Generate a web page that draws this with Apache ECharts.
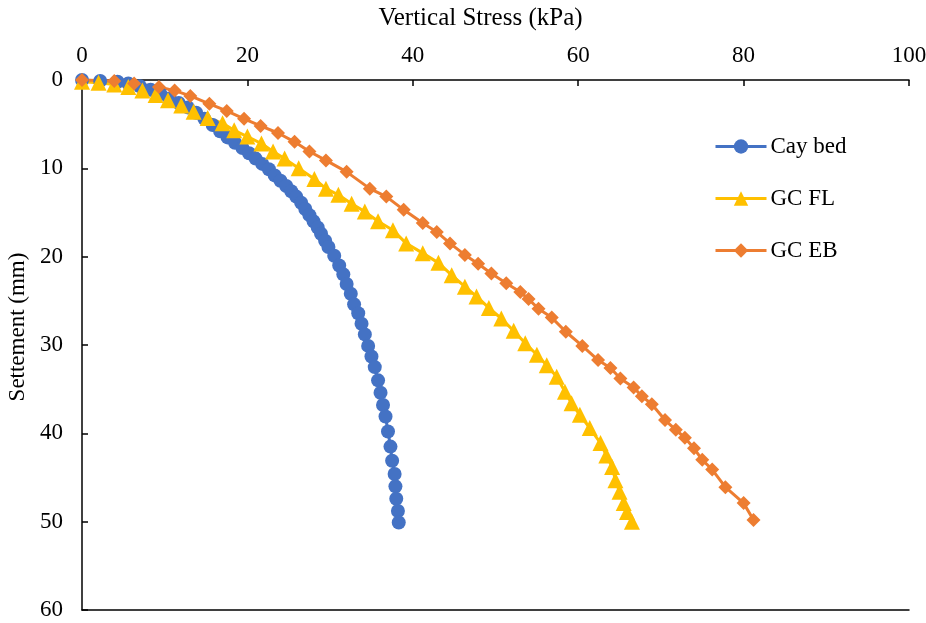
<!DOCTYPE html>
<html>
<head>
<meta charset="utf-8">
<script src="https://cdn.jsdelivr.net/npm/echarts@6/dist/echarts.min.js"></script>
<style>html,body{margin:0;padding:0;background:#fff}#c{width:926px;height:623px}</style>
</head>
<body>
<div id="c"></div>
<script>
const seriesNames = ['Cay bed', 'GC FL', 'GC EB'];
const xTicks = [0, 20, 40, 60, 80, 100];
const yTicks = [0, 10, 20, 30, 40, 50, 60];
// [vertical stress (kPa), settlement (mm)]
const cayBed = [[0,0],[2.2,0.1],[4.3,0.2],[5.6,0.4],[7,0.7],[8.3,1.1],[9.5,1.6],[10.6,2.1],[11.7,2.6],[12.8,3.1],[13.8,3.7],[14.8,4.4],[15.8,5.1],[16.7,5.8],[17.6,6.5],[18.5,7.1],[19.4,7.7],[20.2,8.3],[21.0,8.9],[21.8,9.5],[22.6,10.1],[23.3,10.8],[24.0,11.4],[24.7,12.0],[25.3,12.6],[25.9,13.2],[26.5,13.9],[27.0,14.6],[27.5,15.3],[28.0,16.0],[28.5,16.7],[28.9,17.4],[29.4,18.2],[29.8,18.9],[30.5,19.9],[31.1,21.0],[31.6,22.0],[32.0,23.1],[32.5,24.2],[32.9,25.4],[33.4,26.4],[33.8,27.6],[34.2,28.8],[34.6,30.1],[35.0,31.3],[35.4,32.5],[35.8,34.0],[36.1,35.4],[36.4,36.8],[36.7,38.1],[37.0,39.8],[37.3,41.5],[37.5,43.1],[37.8,44.6],[37.9,46.0],[38.0,47.4],[38.2,48.8],[38.3,50.1]];
const gcFL = [[0,0.2],[2,0.3],[3.9,0.5],[5.6,0.8],[7.3,1.2],[8.9,1.7],[10.4,2.3],[12.0,2.9],[13.5,3.6],[15.2,4.3],[17.0,4.9],[18.4,5.7],[20.0,6.4],[21.7,7.2],[23.1,8.1],[24.5,8.9],[26.2,10.0],[28.1,11.2],[29.5,12.3],[31.0,13.0],[32.6,14.0],[34.2,14.9],[35.8,16.0],[37.6,17.0],[39.2,18.5],[41.2,19.6],[43.1,20.7],[44.7,22.1],[46.3,23.4],[47.7,24.5],[49.2,25.8],[50.7,27.0],[52.2,28.4],[53.6,29.8],[55.0,31.1],[56.2,32.3],[57.4,33.6],[58.4,35.3],[59.2,36.6],[60.2,37.9],[61.4,39.4],[62.7,41.1],[63.4,42.5],[64.1,43.8],[64.5,45.3],[65.0,46.6],[65.5,47.9],[65.9,48.9],[66.5,50.0]];
const gcEB = [[0,0],[3.9,0.1],[6.3,0.4],[9.3,0.8],[11.2,1.2],[13.1,1.8],[15.4,2.7],[17.5,3.5],[19.6,4.4],[21.6,5.2],[23.7,6.0],[25.7,7.0],[27.5,8.1],[29.5,9.1],[32.0,10.4],[34.8,12.3],[36.8,13.2],[38.9,14.7],[41.2,16.2],[42.9,17.2],[44.5,18.5],[46.3,19.8],[47.9,20.8],[49.5,21.9],[51.3,23.0],[53.0,24.0],[54.0,24.8],[55.2,25.9],[56.8,26.9],[58.5,28.5],[60.5,30.1],[62.4,31.7],[63.9,32.6],[65.1,33.8],[66.7,34.8],[67.7,35.8],[68.9,36.7],[70.5,38.5],[71.8,39.6],[72.9,40.5],[74.0,41.7],[75.0,43.0],[76.2,44.1],[77.8,46.1],[80.0,47.9],[81.2,49.8]];

const FONT = '"Liberation Serif", "Times New Roman", serif';
const FS = 23;
const chart = echarts.init(document.getElementById('c'), null, {renderer: 'canvas'});
const colors = ['#4472C4', '#FFC000', '#ED7D31'];
const symbols = ['circle', 'triangle', 'diamond'];
const sizes = [14, 16, 14];
const datas = [cayBed, gcFL, gcEB];

chart.setOption({
  animation: false,
  backgroundColor: '#fff',
  textStyle: {fontFamily: FONT},
  grid: {left: 82, top: 80, right: 17, bottom: 13, containLabel: false, outerBoundsMode: 'none'},
  legend: {
    orient: 'vertical', left: 714, top: 135, padding: 0,
    itemWidth: 51, itemHeight: 18, itemGap: 29,
    data: seriesNames,
    lineStyle: {width: 3},
    textStyle: {fontFamily: FONT, fontSize: FS, color: '#000', padding: [0,0,0,-1]}
  },
  xAxis: [{
    type: 'value', position: 'top', min: xTicks[0], max: xTicks[xTicks.length-1], interval: 20,
    name: 'Vertical Stress (kPa)', nameLocation: 'middle', nameGap: 49,
    nameTextStyle: {fontFamily: FONT, fontSize: 25, color: '#000', padding: [0, 30, 0, 0]},
    axisLine: {show: true, lineStyle: {color: '#000', width: 1.5}},
    axisTick: {show: true, inside: true, length: 6, lineStyle: {color: '#000', width: 1.5}},
    axisLabel: {fontFamily: FONT, fontSize: FS, color: '#000', margin: 13},
    splitLine: {show: false}
  }, {
    type: 'value', position: 'bottom', min: 0, max: 100, interval: 20,
    axisLine: {show: true, onZero: false, lineStyle: {color: '#000', width: 1.5}},
    axisTick: {show: false}, axisLabel: {show: false}, splitLine: {show: false}
  }],
  yAxis: {
    type: 'value', inverse: true, min: yTicks[0], max: yTicks[yTicks.length-1], interval: 10,
    name: 'Settement (mm)', nameLocation: 'middle', nameGap: 50,
    nameTextStyle: {fontFamily: FONT, fontSize: FS, color: '#000', padding: [0, 0, 0, 36]},
    axisLine: {show: true, onZero: false, lineStyle: {color: '#000', width: 1.5}},
    axisTick: {show: true, inside: true, length: 6, lineStyle: {color: '#000', width: 1.5}},
    axisLabel: {fontFamily: FONT, fontSize: FS, color: '#000', margin: 19},
    splitLine: {show: false}
  },
  series: seriesNames.map((n, i) => ({
    name: n, type: 'line', data: datas[i], xAxisIndex: 0,
    symbol: symbols[i], symbolSize: sizes[i], showAllSymbol: true,
    lineStyle: {color: colors[i], width: 3},
    itemStyle: {color: colors[i]},
    clip: false
  }))
});
</script>
</body>
</html>
